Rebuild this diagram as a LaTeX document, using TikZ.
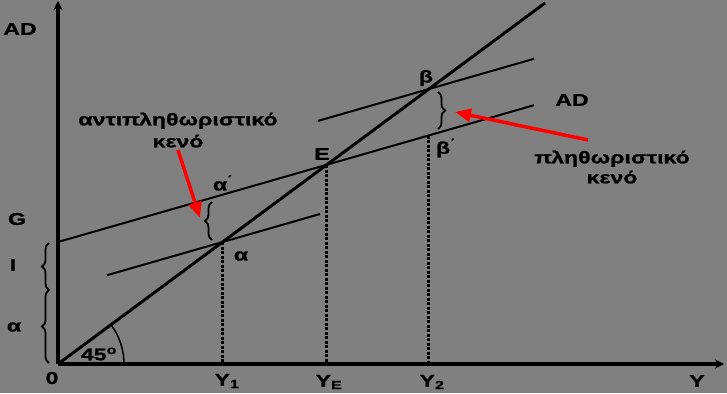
\documentclass[tikz,border=0pt]{standalone}
\usepackage{fontspec}
\setmainfont{Liberation Sans}[FakeStretch=1.36, BoldFeatures={FakeBold=1.2}]
\usetikzlibrary{arrows.meta,decorations.pathreplacing,calc}
\definecolor{bg}{RGB}{128,128,128}
\begin{document}
\begin{tikzpicture}[x=1pt,y=-1pt,
  lbl/.style={font=\bfseries\fontsize{17}{17}\selectfont, inner sep=0pt},
  axisln/.style={line width=4pt, -{Stealth[length=9pt,width=9pt]}},
  diag/.style={line width=3pt},
  adline/.style={line width=2pt},
  dotl/.style={line width=3pt, dash pattern=on 3pt off 1.5pt},
  redarr/.style={draw=red, line width=3.5pt, -{Triangle[length=16pt,width=13pt]}},
  brc/.style={decorate, decoration={brace, amplitude=7pt}, line width=1.8pt}]
\fill[bg] (0,0) rectangle (727,393);
\useasboundingbox (0,0) rectangle (727,393);
% key points
\coordinate (O) at (58,364);
\coordinate (Ytop) at (58,1);
\coordinate (Xr) at (724,364);
\coordinate (D) at (545,3);
\coordinate (G0) at (58,242);
\coordinate (Mend) at (534,105.2);
\coordinate (L0) at (107,275.2);
\coordinate (L1) at (320,214);
\coordinate (U0) at (318,120.9);
\coordinate (U1) at (534,58.8);
\coordinate (A) at (222,242.2);
\coordinate (E) at (326,165);
\coordinate (B) at (428,89.3);
\coordinate (Bp) at (428,135.7);
\coordinate (A1) at (222,364);
\coordinate (E1) at (326,364);
\coordinate (B1) at (428,364);
% lines
\draw[adline] (G0) -- (Mend);
\draw[adline] (L0) -- (L1);
\draw[adline] (U0) -- (U1);
\draw[diag] (O) -- (D);
\draw[dotl] (A) -- (A1);
\draw[dotl] (E) -- (E1);
\draw[dotl] (Bp) -- (B1);
\draw[axisln] (O) -- (Ytop);
\draw[axisln] (O) -- (Xr);
% 45 degree arc
\draw[line width=1.5pt] (O) ++(66,0) arc[start angle=0, end angle=-36.6, radius=66];
% braces
\coordinate (ba1) at (212,240);
\coordinate (ba2) at (212,202);
\draw[brc] (ba1) -- (ba2);
\coordinate (bb1) at (438,92);
\coordinate (bb2) at (438,129);
\draw[brc] (bb1) -- (bb2);
\coordinate (bl0) at (49,363);
\coordinate (bl1) at (49,290);
\coordinate (bl2) at (49,243);
\draw[brc] (bl0) -- (bl1);
\draw[brc] (bl1) -- (bl2);
% labels
\node[lbl] (lAD) at (20,29) {AD};
\node[lbl] (lAD2) at (572,100) {AD};
\node[lbl] (lG) at (17,219) {G};
\node[lbl] (lI) at (13,265) {I};
\node[lbl] (la) at (14,327) {α};
\node[lbl] (l0) at (52,378) {0};
\node[lbl] (l45) at (99,354) {45\textsuperscript{o}};
\node[lbl] (lY1) at (227,381) {Y\textsubscript{1}};
\node[lbl] (lYE) at (329,382) {Y\textsubscript{E}};
\node[lbl] (lY2) at (432,382) {Y\textsubscript{2}};
\node[lbl] (lY) at (697,381) {Y};
\node[lbl] (lap) at (223,183) {α\textsuperscript{΄}};
\node[lbl] (lal) at (241,256) {α};
\node[lbl] (lE) at (322,154) {E};
\node[lbl] (lb) at (426,78) {β};
\node[lbl] (lbp) at (446,148) {β\textsuperscript{΄}};
\node[lbl, align=center] (t1) at (178,130) {αντιπληθωριστικό\\[5pt]κενό};
\node[lbl, align=center] (t2) at (612,167) {πληθωριστικό\\[3pt]κενό};
% red arrows
\coordinate (r1s) at (178,150);
\coordinate (r1e) at (200,218);
\draw[redarr] (r1s) -- (r1e);
\coordinate (r2s) at (588,140);
\coordinate (r2e) at (455,112);
\draw[redarr] (r2s) -- (r2e);
\end{tikzpicture}
\end{document}
